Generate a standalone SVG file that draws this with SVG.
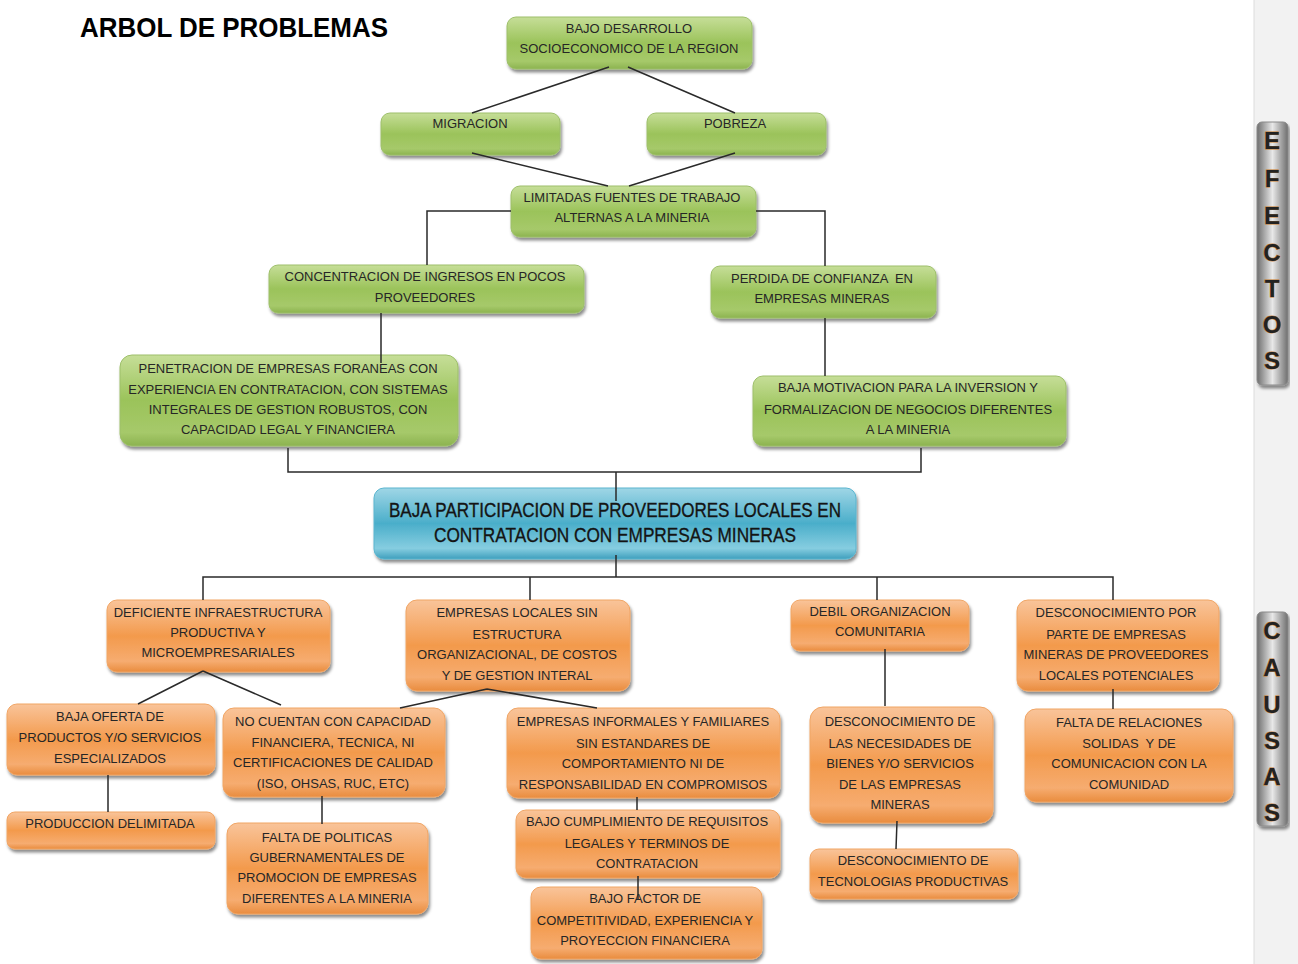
<svg xmlns="http://www.w3.org/2000/svg" width="1298" height="964" viewBox="0 0 1298 964">
<defs>
<linearGradient id="gG" x1="0" y1="0" x2="0" y2="1">
<stop offset="0" stop-color="#c6de98"/><stop offset="0.5" stop-color="#9bc35a"/><stop offset="0.85" stop-color="#a6c96a"/><stop offset="1" stop-color="#8cb34f"/>
</linearGradient>
<linearGradient id="gO" x1="0" y1="0" x2="0" y2="1">
<stop offset="0" stop-color="#f9c49a"/><stop offset="0.5" stop-color="#f39a4c"/><stop offset="0.85" stop-color="#f6ac70"/><stop offset="1" stop-color="#e98c3e"/>
</linearGradient>
<linearGradient id="gB" x1="0" y1="0" x2="0" y2="1">
<stop offset="0" stop-color="#9fd6e6"/><stop offset="0.5" stop-color="#4aaeca"/><stop offset="0.85" stop-color="#86cde0"/><stop offset="1" stop-color="#3e9fbd"/>
</linearGradient>
<linearGradient id="gS" x1="0" y1="0" x2="1" y2="0">
<stop offset="0" stop-color="#6e6e6e"/><stop offset="0.5" stop-color="#e8e8e8"/><stop offset="1" stop-color="#6e6e6e"/>
</linearGradient>
<filter id="sh" x="-5%" y="-10%" width="110%" height="130%">
<feDropShadow dx="1.5" dy="3" stdDeviation="1.5" flood-color="#000" flood-opacity="0.45"/>
</filter>
</defs>
<style>
.g{fill:url(#gG);stroke:#9dbf6a;stroke-width:1}
.o{fill:url(#gO);stroke:#f0a565;stroke-width:1}
.b{fill:url(#gB);stroke:#5ab5cf;stroke-width:1}
.s{fill:url(#gS);stroke:#8a8a8a;stroke-width:1}
rect.g,rect.o,rect.b,rect.s{filter:url(#sh)}
text{font-family:"Liberation Sans",Arial,sans-serif;font-size:13px;fill:#262626;text-anchor:middle;white-space:pre}
.bt{font-size:20px;fill:#141414;stroke:#141414;stroke-width:0.35}
.ttl{font-size:28px;font-weight:bold;fill:#000;text-anchor:start}
.sl{font-size:24px;font-weight:bold;fill:#222;stroke:#c87a2a;stroke-width:0.8;paint-order:stroke}
.c{fill:none;stroke:#2a2a2a;stroke-width:1.5}
</style>
<rect x="0" y="0" width="1298" height="964" fill="#ffffff"/>
<rect x="1254" y="0" width="44" height="964" fill="#f2f2f2"/>
<line x1="1254" y1="0" x2="1254" y2="964" stroke="#dcdcdc" stroke-width="1"/>
<text class="ttl" x="80" y="37" textLength="308" lengthAdjust="spacingAndGlyphs">ARBOL DE PROBLEMAS</text>

<g id="n_bajo_desarrollo"><rect class="g" x="507" y="17" width="245" height="52" rx="9"/><text x="629" y="33">BAJO DESARROLLO</text><text x="629" y="53">SOCIOECONOMICO DE LA REGION</text></g>
<g id="n_migracion"><rect class="g" x="381" y="113" width="179" height="42" rx="9"/><text x="470" y="128">MIGRACION</text></g>
<g id="n_pobreza"><rect class="g" x="647" y="113" width="179" height="42" rx="9"/><text x="735" y="128">POBREZA</text></g>
<g id="n_limitadas"><rect class="g" x="511" y="186" width="245" height="51" rx="9"/><text x="632" y="202">LIMITADAS FUENTES DE TRABAJO</text><text x="632" y="222">ALTERNAS A LA MINERIA</text></g>
<g id="n_concentracion"><rect class="g" x="269" y="265" width="315" height="48" rx="9"/><text x="425" y="281">CONCENTRACION DE INGRESOS EN POCOS</text><text x="425" y="302">PROVEEDORES</text></g>
<g id="n_perdida"><rect class="g" x="711" y="266" width="225" height="52" rx="9"/><text x="822" y="283" xml:space="preserve">PERDIDA DE CONFIANZA  EN</text><text x="822" y="303">EMPRESAS MINERAS</text></g>
<g id="n_penetracion"><rect class="g" x="120" y="355" width="338" height="91" rx="12"/><text x="288" y="373">PENETRACION DE EMPRESAS FORANEAS CON</text><text x="288" y="394">EXPERIENCIA EN CONTRATACION, CON SISTEMAS</text><text x="288" y="414">INTEGRALES DE GESTION ROBUSTOS, CON</text><text x="288" y="434">CAPACIDAD LEGAL Y FINANCIERA</text></g>
<g id="n_baja_motivacion"><rect class="g" x="753" y="376" width="313" height="70" rx="10"/><text x="908" y="392">BAJA MOTIVACION PARA LA INVERSION Y</text><text x="908" y="414">FORMALIZACION DE NEGOCIOS DIFERENTES</text><text x="908" y="434">A LA MINERIA</text></g>

<g id="n_problema"><rect class="b" x="374" y="488" width="482" height="71" rx="10"/><text class="bt" x="615" y="517" textLength="452" lengthAdjust="spacingAndGlyphs">BAJA PARTICIPACION DE PROVEEDORES LOCALES EN</text><text class="bt" x="615" y="542" textLength="362" lengthAdjust="spacingAndGlyphs">CONTRATACION CON EMPRESAS MINERAS</text></g>

<g id="n_deficiente"><rect class="o" x="107" y="600" width="223" height="72" rx="10"/><text x="218" y="617">DEFICIENTE INFRAESTRUCTURA</text><text x="218" y="637">PRODUCTIVA Y</text><text x="218" y="657">MICROEMPRESARIALES</text></g>
<g id="n_empresas_locales"><rect class="o" x="406" y="600" width="224" height="91" rx="11"/><text x="517" y="617">EMPRESAS LOCALES SIN</text><text x="517" y="639">ESTRUCTURA</text><text x="517" y="659">ORGANIZACIONAL, DE COSTOS</text><text x="517" y="680">Y DE GESTION INTERAL</text></g>
<g id="n_debil"><rect class="o" x="791" y="600" width="178" height="51" rx="9"/><text x="880" y="616">DEBIL ORGANIZACION</text><text x="880" y="636">COMUNITARIA</text></g>
<g id="n_desconocimiento_por"><rect class="o" x="1017" y="600" width="202" height="91" rx="11"/><text x="1116" y="617">DESCONOCIMIENTO POR</text><text x="1116" y="639">PARTE DE EMPRESAS</text><text x="1116" y="659">MINERAS DE PROVEEDORES</text><text x="1116" y="680">LOCALES POTENCIALES</text></g>
<g id="n_baja_oferta"><rect class="o" x="7" y="704" width="208" height="71" rx="10"/><text x="110" y="721">BAJA OFERTA DE</text><text x="110" y="742">PRODUCTOS Y/O SERVICIOS</text><text x="110" y="763">ESPECIALIZADOS</text></g>
<g id="n_no_cuentan"><rect class="o" x="223" y="708" width="222" height="89" rx="11"/><text x="333" y="726">NO CUENTAN CON CAPACIDAD</text><text x="333" y="747">FINANCIERA, TECNICA, NI</text><text x="333" y="767">CERTIFICACIONES DE CALIDAD</text><text x="333" y="788">(ISO, OHSAS, RUC, ETC)</text></g>
<g id="n_informales"><rect class="o" x="507" y="708" width="273" height="90" rx="11"/><text x="643" y="726">EMPRESAS INFORMALES Y FAMILIARES</text><text x="643" y="748">SIN ESTANDARES DE</text><text x="643" y="768">COMPORTAMIENTO NI DE</text><text x="643" y="789">RESPONSABILIDAD EN COMPROMISOS</text></g>
<g id="n_desconocimiento_necesidades"><rect class="o" x="810" y="707" width="183" height="116" rx="13"/><text x="900" y="726">DESCONOCIMIENTO DE</text><text x="900" y="748">LAS NECESIDADES DE</text><text x="900" y="768">BIENES Y/O SERVICIOS</text><text x="900" y="789">DE LAS EMPRESAS</text><text x="900" y="809">MINERAS</text></g>
<g id="n_falta_relaciones"><rect class="o" x="1025" y="709" width="208" height="93" rx="11"/><text x="1129" y="727">FALTA DE RELACIONES</text><text x="1129" y="748" xml:space="preserve">SOLIDAS  Y DE</text><text x="1129" y="768">COMUNICACION CON LA</text><text x="1129" y="789">COMUNIDAD</text></g>
<g id="n_produccion"><rect class="o" x="7" y="812" width="208" height="37" rx="8"/><text x="110" y="828">PRODUCCION DELIMITADA</text></g>
<g id="n_falta_politicas"><rect class="o" x="227" y="823" width="201" height="91" rx="11"/><text x="327" y="842">FALTA DE POLITICAS</text><text x="327" y="862">GUBERNAMENTALES DE</text><text x="327" y="882">PROMOCION DE EMPRESAS</text><text x="327" y="903">DIFERENTES A LA MINERIA</text></g>
<g id="n_bajo_cumplimiento"><rect class="o" x="516" y="810" width="264" height="68" rx="10"/><text x="647" y="826">BAJO CUMPLIMIENTO DE REQUISITOS</text><text x="647" y="848">LEGALES Y TERMINOS DE</text><text x="647" y="868">CONTRATACION</text></g>
<g id="n_bajo_factor"><rect class="o" x="531" y="887" width="231" height="72" rx="10"/><text x="645" y="903">BAJO FACTOR DE</text><text x="645" y="925">COMPETITIVIDAD, EXPERIENCIA Y</text><text x="645" y="945">PROYECCION FINANCIERA</text></g>
<g id="n_tecnologias"><rect class="o" x="810" y="849" width="208" height="50" rx="9"/><text x="913" y="865">DESCONOCIMIENTO DE</text><text x="913" y="886">TECNOLOGIAS PRODUCTIVAS</text></g>

<g id="connectors">
<path class="c" d="M609 67 L472 113 M628 67 L735 113"/>
<path class="c" d="M472 153 L608 186 M735 153 L629 186"/>
<path class="c" d="M511 211 H427 V265 M756 211 H825 V266"/>
<path class="c" d="M381 313 V363 M825 318 V376"/>
<path class="c" d="M288 448 V472 H921 V448 M616 472 V501"/>
<path class="c" d="M616 555 V577 M203 600 V577 H1113 V600 M530 577 V600 M877 577 V600"/>
<path class="c" d="M203 671 L138 704 M203 671 L281 705"/>
<path class="c" d="M487 689 L400 708 M487 689 L597 708"/>
<path class="c" d="M108 775 V812 M322 796 V824 M637 797 V810 M638 876 V900"/>
<path class="c" d="M885 649 V706 M897 821 L896 849 M1113 689 V709"/>
</g>

<g id="lbl_efectos"><rect class="s" x="1257" y="122" width="31" height="263" rx="5"/>
<text class="sl" x="1272" y="149">E</text><text class="sl" x="1272" y="187">F</text><text class="sl" x="1272" y="224">E</text><text class="sl" x="1272" y="261">C</text><text class="sl" x="1272" y="297">T</text><text class="sl" x="1272" y="333">O</text><text class="sl" x="1272" y="369">S</text></g>
<g id="lbl_causas"><rect class="s" x="1257" y="612" width="31" height="214" rx="5"/>
<text class="sl" x="1272" y="639">C</text><text class="sl" x="1272" y="676">A</text><text class="sl" x="1272" y="713">U</text><text class="sl" x="1272" y="749">S</text><text class="sl" x="1272" y="785">A</text><text class="sl" x="1272" y="821">S</text></g>
</svg>
